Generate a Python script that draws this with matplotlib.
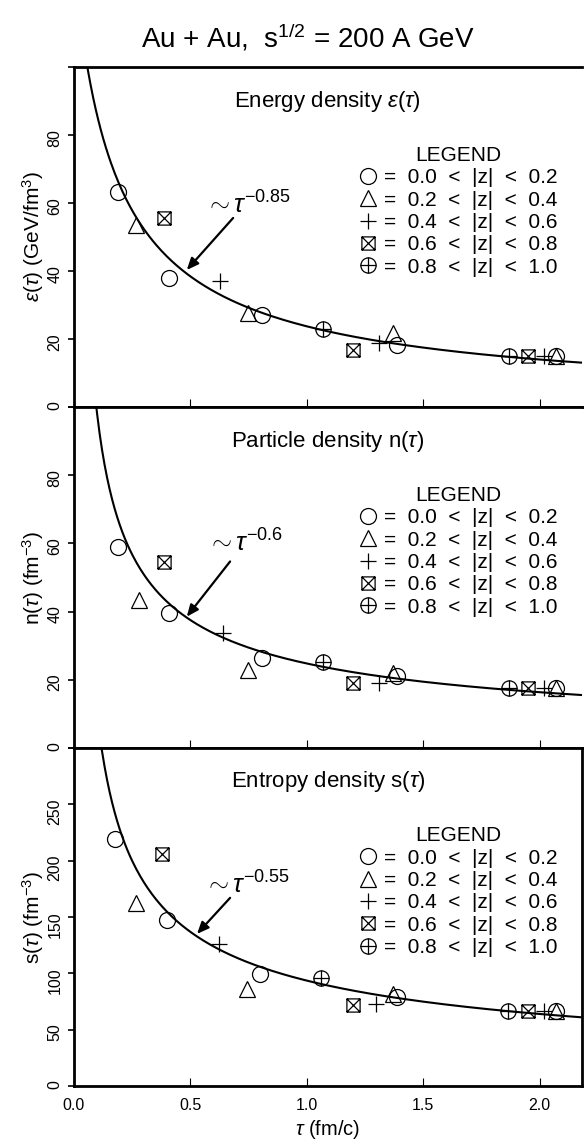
import numpy as np
import matplotlib
matplotlib.use("Agg")
import matplotlib.pyplot as plt
from matplotlib.path import Path
from matplotlib.lines import Line2D

plt.rcParams['font.family'] = ['Liberation Sans', 'DejaVu Sans']
plt.rcParams['mathtext.fontset'] = 'custom'
plt.rcParams['mathtext.rm'] = 'Liberation Sans'
plt.rcParams['mathtext.it'] = 'Liberation Sans:italic'
plt.rcParams['mathtext.bf'] = 'Liberation Sans:bold'

# |z| bins and their symbols
z_bins = ["0.0  <  |z|  <  0.2", "0.2  <  |z|  <  0.4", "0.4  <  |z|  <  0.6",
          "0.6  <  |z|  <  0.8", "0.8  <  |z|  <  1.0"]

# energy density eps(tau), GeV/fm^3
eps_tau_b1 = [0.19, 0.41, 0.81, 1.39, 2.07]
eps_val_b1 = [63.2, 38.0, 27.0, 18.2, 15.0]
eps_tau_b2 = [0.27, 0.75, 1.37, 2.07]
eps_val_b2 = [53.5, 27.6, 21.8, 15.0]
eps_tau_b3 = [0.63, 1.31, 2.02]
eps_val_b3 = [37.0, 18.8, 15.0]
eps_tau_b4 = [0.39, 1.20, 1.95]
eps_val_b4 = [55.6, 16.8, 15.0]
eps_tau_b5 = [1.07, 1.87]
eps_val_b5 = [23.0, 15.0]

# particle density n(tau), fm^-3
n_tau_b1 = [0.19, 0.41, 0.81, 1.39, 2.07]
n_val_b1 = [59.0, 39.7, 26.5, 21.0, 17.6]
n_tau_b2 = [0.28, 0.75, 1.37, 2.07]
n_val_b2 = [43.5, 23.0, 22.0, 17.6]
n_tau_b3 = [0.64, 1.31, 2.02]
n_val_b3 = [33.8, 19.0, 17.6]
n_tau_b4 = [0.39, 1.20, 1.95]
n_val_b4 = [54.4, 19.0, 17.6]
n_tau_b5 = [1.07, 1.87]
n_val_b5 = [25.3, 17.6]

# entropy density s(tau), fm^-3
s_tau_b1 = [0.18, 0.40, 0.80, 1.39, 2.07]
s_val_b1 = [219, 147, 99, 79, 67]
s_tau_b2 = [0.27, 0.745, 1.37, 2.07]
s_val_b2 = [162, 86, 82, 67]
s_tau_b3 = [0.625, 1.30, 2.02]
s_val_b3 = [126, 73, 67]
s_tau_b4 = [0.38, 1.20, 1.95]
s_val_b4 = [206, 72, 67]
s_tau_b5 = [1.06, 1.865]
s_val_b5 = [96, 67]

# power-law fits  A * (tau + t0)^(-p)
eps_fit = (26.8, 0.153, 0.85)
n_fit = (24.8, 0.0, 0.6)
s_fit = (93.6, 0.0, 0.55)

# custom symbols: boxed cross and circled plus
box_x = Path([(-1, -1), (1, -1), (1, 1), (-1, 1), (-1, -1),
              (-1, -1), (1, 1), (-1, 1), (1, -1)],
             [Path.MOVETO, Path.LINETO, Path.LINETO, Path.LINETO, Path.CLOSEPOLY,
              Path.MOVETO, Path.LINETO, Path.MOVETO, Path.LINETO])
o_plus = Path.make_compound_path(
    Path.unit_circle(),
    Path([(-1, 0), (1, 0)], [Path.MOVETO, Path.LINETO]),
    Path([(0, -1), (0, 1)], [Path.MOVETO, Path.LINETO]))

styles = [dict(marker='o', ms=11.5), dict(marker='^', ms=11),
          dict(marker='+', ms=11), dict(marker=box_x, ms=9.5),
          dict(marker=o_plus, ms=11)]

W, H = 584, 1139
fig = plt.figure(figsize=(W / 100, H / 100), dpi=100)
x0, x1 = 73.5, 582
ax_left, ax_w = x0 / W, (x1 - x0) / W

def add_panel(top_px, bot_px):
    return fig.add_axes([ax_left, 1 - bot_px / H, ax_w, (bot_px - top_px) / H])

ax_e = add_panel(67, 407)
ax_n = add_panel(407, 748)
ax_s = add_panel(748, 1086)

tau = np.linspace(0.03, 2.2, 400)

panels = [
    (ax_e, [(eps_tau_b1, eps_val_b1), (eps_tau_b2, eps_val_b2), (eps_tau_b3, eps_val_b3),
            (eps_tau_b4, eps_val_b4), (eps_tau_b5, eps_val_b5)],
     eps_fit, 100, np.arange(0, 101, 20), r"$\varepsilon(\tau)$ (GeV/fm$^3$)",
     r"Energy density $\varepsilon(\tau)$", r"$\sim\tau^{-0.85}$",
     (0.565, 57.0), (0.685, 55.6), (0.486, 40.3)),
    (ax_n, [(n_tau_b1, n_val_b1), (n_tau_b2, n_val_b2), (n_tau_b3, n_val_b3),
            (n_tau_b4, n_val_b4), (n_tau_b5, n_val_b5)],
     n_fit, 100, np.arange(0, 101, 20), r"n$(\tau)$ (fm$^{-3}$)",
     r"Particle density n$(\tau)$", r"$\sim\tau^{-0.6}$",
     (0.572, 57.5), (0.672, 54.7), (0.486, 38.5)),
    (ax_s, [(s_tau_b1, s_val_b1), (s_tau_b2, s_val_b2), (s_tau_b3, s_val_b3),
            (s_tau_b4, s_val_b4), (s_tau_b5, s_val_b5)],
     s_fit, 300, np.arange(0, 301, 50), r"s$(\tau)$ (fm$^{-3}$)",
     r"Entropy density s$(\tau)$", r"$\sim\tau^{-0.55}$",
     (0.56, 171), (0.672, 167), (0.53, 135)),
]

for ax, series, fit, ymax, yticks, ylab, title, power, txt_xy, tail, tip in panels:
    A, t0, p = fit
    ax.plot(tau, A * (tau + t0) ** (-p), color='black', lw=1.5, zorder=2)
    for (tx, vy), st in zip(series, styles):
        ax.plot(tx, vy, linestyle='none', color='black', mfc='none',
                mew=0.9, zorder=3, **st)
    ax.set_xlim(0, 2.182)
    ax.set_ylim(0, ymax)
    ax.set_yticks(yticks)
    ax.set_yticklabels([str(v) for v in yticks[:-1]] + [''])
    ax.set_xticks([0.0, 0.5, 1.0, 1.5, 2.0])
    ax.tick_params(axis='y', direction='out', length=4, width=1.2,
                   labelsize=11.5, labelrotation=90, pad=4)
    ax.tick_params(axis='x', direction='in', length=6, width=0.8,
                   labelsize=11.5, pad=9)
    for sp in ax.spines.values():
        sp.set_linewidth(2.0)
    ax.set_ylabel(ylab, fontsize=15, labelpad=1)
    ax.text(0.5, 0.9, title, transform=ax.transAxes, ha='center', va='center',
            fontsize=16)
    ax.text(txt_xy[0], txt_xy[1], power, fontsize=18.5, ha='left', va='baseline')
    ax.annotate('', xy=tip, xytext=tail,
                arrowprops=dict(arrowstyle='-|>,head_length=0.7,head_width=0.3',
                                color='black', lw=1.6, shrinkA=0, shrinkB=0))
    handles = [Line2D([], [], linestyle='none', color='black', mfc='none',
                      mew=0.9, **st) for st in styles]
    ax.legend(handles, ['=  ' + b for b in z_bins], title='LEGEND',
              loc='upper center', bbox_to_anchor=(0.756, 0.768), frameon=False,
              fontsize=15, title_fontsize=15, labelspacing=0.16,
              handlelength=0.9, handletextpad=0.35, borderpad=0,
              borderaxespad=0)

for ax in (ax_e, ax_n):
    ax.tick_params(axis='x', labelbottom=False)
    ax.spines['right'].set_visible(False)

ax_s.set_xlabel(r"$\tau$ (fm/c)", fontsize=14.5, labelpad=3)

fig.text(308 / W, 1 - 38 / H, r"Au + Au,  s$^{1/2}$ = 200 A GeV",
         ha='center', va='center', fontsize=20)

fig.savefig('out.png', dpi=100)
